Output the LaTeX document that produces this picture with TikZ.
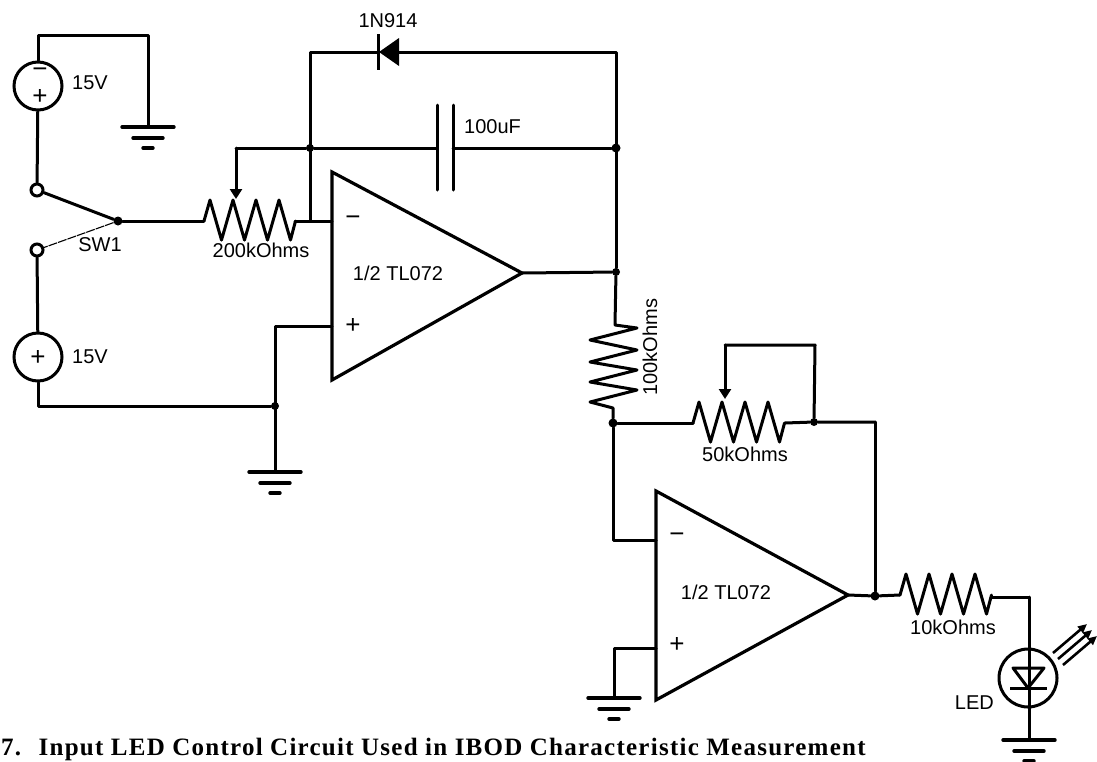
\documentclass[tikz,border=0pt]{standalone}
\usepackage{fontspec}
\setmainfont{Liberation Sans}
\newfontfamily\capfont[LetterSpace=5]{Liberation Serif}
\usetikzlibrary{arrows.meta,calc}
\tikzset{
  x=1pt,y=-1pt,
  wire/.style={line width=3pt,line join=round,line cap=round},
  src/.style={circle,draw,line width=3pt,minimum size=48pt,inner sep=0pt},
  term/.style={circle,draw,line width=3pt,minimum size=12pt,inner sep=0pt},
  dot/.style={circle,fill=black,minimum size=9pt,inner sep=0pt},
  lab/.style={font=\fontsize{20}{20}\selectfont,inner sep=0pt,text=black},
  sign/.style={font=\fontsize{26}{26}\selectfont,inner sep=0pt,text=black},
  gnd/.style={line width=3.4pt,line cap=round},
  wiper/.style={wire,-{Triangle[length=10pt,width=12pt]}},
  opamp/.style={line width=3.2pt,line join=miter},
}
\newcommand{\gndsym}[1]{%
  \draw[gnd] ($(#1)+(-26,0)$) -- ($(#1)+(26,0)$);
  \draw[gnd] ($(#1)+(-15,11)$) -- ($(#1)+(15,11)$);
  \draw[gnd] ($(#1)+(-5,21)$) -- ($(#1)+(5,21)$);}
\newcommand{\reshoriz}[1]{%
  \draw[wire] (#1) -- ++(6,-21) -- ++(11.5,40) -- ++(11.5,-40) -- ++(11.5,40) -- ++(11.5,-40) -- ++(11.5,40) -- ++(11.5,-40) -- ++(11.5,40) -- ++(5,-19);}
\begin{document}
\begin{tikzpicture}
\useasboundingbox (0,0) rectangle (1097,761);
% sources and switch
\node[src] (b1) at (38,86) {};
\node[src] (b2) at (38,357) {};
\node[term] (t1) at (37,190) {};
\node[term] (t2) at (37,250) {};
\node[dot] (sw) at (118,221) {};
\node[sign] (b1m) at (40,73) {−};
\node[sign] (b1p) at (40,97) {+};
\node[sign] (b2p) at (38,358) {+};
\coordinate (g1) at (148,127);
\coordinate (tc) at (38,35);
\coordinate (tr) at (148,35);
\draw[wire] (b1) -- (tc) -- (tr) -- (g1);
\gndsym{g1}
\draw[wire] (b1) -- (t1);
\draw[wire] (t1) -- (sw);
\draw[line width=1.1pt,dash pattern=on 9pt off 1pt] (sw) -- (t2);
\draw[wire] (t2) -- (b2);
\node[lab,anchor=west] (v1) at (72,83) {15V};
\node[lab,anchor=west] (v2) at (72,357) {15V};
\node[lab] (swl) at (100,245) {SW1};
% bottom-left
\node[dot,minimum size=8pt] (j1) at (275,406) {};
\coordinate (bl) at (38,406);
\coordinate (g2) at (275,472);
\coordinate (pa) at (275,326);
\coordinate (ip1) at (332,326);
\draw[wire] (b2) -- (bl) -- (j1);
\draw[wire] (g2) -- (pa) -- (ip1);
\gndsym{g2}
% R 200k
\coordinate (r1l) at (204,221);
\coordinate (r1r) at (295,221);
\coordinate (in1) at (332,221);
\draw[wire] (sw) -- (r1l);
\reshoriz{r1l}
\draw[wire] (r1r) -- (in1);
\node[lab] (r1t) at (261,250) {200kOhms};
% feedback
\node[dot,minimum size=8pt] (j2) at (310,148) {};
\coordinate (j3) at (310,221);
\coordinate (ftl) at (310,52);
\coordinate (ftr) at (616,52);
\node[dot,minimum size=9pt] (j4) at (616,148) {};
\node[dot,minimum size=8pt] (j5) at (616,272) {};
\draw[wire] (j3) -- (ftl) -- (378,52);
\draw[wire] (398,52) -- (ftr) -- (j5);
\fill (379,52) -- (399,38) -- (399,66) -- cycle;
\draw[line width=3pt] (378,34) -- (378,70);
\node[lab] (d1) at (388,21) {1N914};
% wiper and capacitor
\coordinate (w1) at (236,148);
\coordinate (w1e) at (236,199);
\draw[wire] (j2) -- (w1);
\draw[wiper] (w1) -- (w1e);
\coordinate (c1) at (437,148);
\coordinate (c2) at (453,148);
\draw[wire] (j2) -- (c1);
\draw[wire] (c2) -- (j4);
\draw[wire] (437,105) -- (437,190);
\draw[wire] (453,105) -- (453,190);
\node[lab,anchor=west] (cl) at (464,127) {100uF};
% op amp 1
\draw[opamp] (332,172) -- (332,380) -- (522,273) -- cycle;
\coordinate (o1) at (522,273);
\draw[wire] (o1) -- (j5);
\node[sign] (m1) at (353,221) {−};
\node[sign] (p1) at (353,326) {+};
\node[lab] (a1) at (398,273) {1/2 TL072};
% R 100k vertical
\node[dot,minimum size=9pt] (j6) at (613,423) {};
\draw[wire] (j5) -- (615,325) -- (637,328) -- (590,340) -- (637,350) -- (590,362) -- (637,370) -- (590,382) -- (637,390) -- (590,402) -- (613,408) -- (j6);
\node[lab,rotate=90] (rvl) at (650,347) {100kOhms};
% 50k
\node[dot,minimum size=8pt] (j7) at (814,422) {};
\coordinate (r2l) at (693,423);
\coordinate (r2r) at (785,423);
\coordinate (j8) at (875,422);
\draw[wire] (j6) -- (r2l);
\reshoriz{r2l}
\draw[wire] (r2r) -- (j7) -- (j8);
\coordinate (w2a) at (815,345);
\coordinate (w2b) at (725,345);
\coordinate (w2e) at (725,399);
\draw[wire] (j7) -- (w2a) -- (w2b);
\draw[wiper] (w2b) -- (w2e);
\node[lab] (r2t) at (745,454) {50kOhms};
% op amp 2
\draw[opamp] (656,491) -- (656,700) -- (848,595) -- cycle;
\coordinate (o2) at (848,595);
\coordinate (in2) at (656,540);
\coordinate (in2c) at (613,540);
\draw[wire] (j6) -- (in2c) -- (in2);
\coordinate (ip2) at (656,648);
\coordinate (g3) at (614,698);
\coordinate (ip2c) at (614,648);
\draw[wire] (ip2) -- (ip2c) -- (g3);
\gndsym{g3}
\node[sign] (m2) at (677,538) {−};
\node[sign] (p2) at (677,645) {+};
\node[lab] (a2) at (726,592) {1/2 TL072};
% output
\node[dot] (j9) at (875,596) {};
\coordinate (r3l) at (900,595);
\coordinate (r3r) at (991,597);
\coordinate (lc) at (1029,597);
\draw[wire] (o2) -- (j9) -- (r3l);
\draw[wire] (j8) -- (j9);
\reshoriz{r3l}
\draw[wire] (r3r) -- (lc);
\node[lab] (r3t) at (953,627) {10kOhms};
% LED
\coordinate (g4) at (1029,740);
\draw[wire] (lc) -- (g4);
\node[src,minimum size=58pt] (led) at (1028,678) {};
\draw[wire] (1013,668) -- (1044,668) -- (1028,688) -- cycle;
\draw[line width=3pt] (1010,688) -- (1047,688);
\gndsym{g4}
\node[lab,anchor=east] (ll) at (994,703) {LED};
\foreach \dx/\dy in {0/0,5/6,10/12}{
  \draw[line width=2.6pt,-{Triangle[length=9pt,width=8pt]}] ({1053+\dx},{653+\dy}) -- ({1087+\dx},{624+\dy});
}
% caption
\node[anchor=west,inner sep=0pt,font=\capfont\bfseries\fontsize{25}{26}\selectfont,text=black] (cap) at (1,749) {7.\hspace{0.7em}Input LED Control Circuit Used in IBOD Characteristic Measurement};
\end{tikzpicture}
\end{document}
